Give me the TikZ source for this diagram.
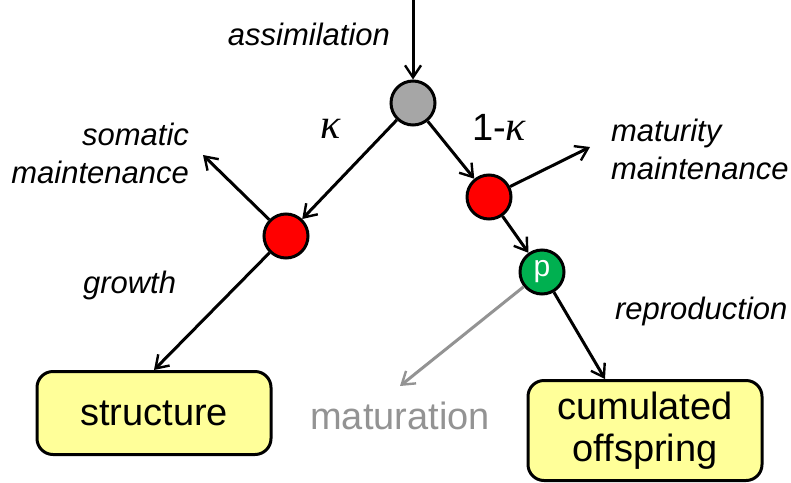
\documentclass[tikz,border=0pt]{standalone}
\usepackage{fontspec}
\setmainfont{Liberation Sans}
\newfontfamily\grkfont{Liberation Serif}
\usetikzlibrary{arrows.meta, positioning}

\definecolor{boxyellow}{RGB}{255,255,153}
\definecolor{poolgreen}{RGB}{0,176,80}

\tikzset{
    flow/.style={line width=1.5pt, -{Straight Barb[length=6pt, width=8pt, line width=1.2pt]}},
    pool/.style={circle, draw, line width=1.5pt, minimum size=22pt, inner sep=0pt},
    statebox/.style={draw, line width=1.5pt, rounded corners=8pt, fill=boxyellow,
        minimum width=117pt, align=center, font=\fontsize{19}{21}\selectfont},
    lbl/.style={font=\fontsize{15.5}{19}\selectfont\itshape, align=left}
}

\begin{document}
\begin{tikzpicture}[x=0.5pt, y=-0.5pt]
    \useasboundingbox (0,0) rectangle (791,482);
    % 1. Knoten
    \node[pool, fill=gray!70]   (mix)  at (413,103) {};
    \node[pool, fill=red]       (soma) at (286,236) {};
    \node[pool, fill=red]       (mat)  at (489,197) {};
    \node[pool, fill=poolgreen, text=white, font=\fontsize{15}{15}\selectfont] (p) at (542,272) {p};
    \node[statebox, minimum height=41.5pt] (struct) at (154,413) {structure};
    \node[statebox, minimum height=50pt, inner sep=0pt] (off) at (645,430.5)
        {cumulated\\offspring};

    % 2. Freie Enden
    \coordinate (top)    at (413,0);
    \coordinate (somend) at (203,155);
    \coordinate (matend) at (590,147);
    \coordinate (mtrend) at (400,386);

    % 3. Flüsse
    \draw[flow] (top) -- (mix);
    \draw[flow] (mix) -- (soma);
    \draw[flow] (mix) -- (mat);
    \draw[flow] (soma) -- (somend);
    \draw[flow] (soma) -- (struct.north);
    \draw[flow] (mat) -- (matend);
    \draw[flow] (mat) -- (p);
    \draw[flow, draw=gray!85] (p) -- (mtrend);
    \draw[flow] (p) -- (off.north -| 605,0);

    % 4. Beschriftungen
    \node[lbl, anchor=east] (lassim) at (397,34) {assimilation};
    \node[font=\fontsize{21}{21}\selectfont\grkfont\itshape] (lk) at (331,129) {κ};
    \node[font=\fontsize{19}{19}\selectfont] (lk1) at (499,127) {1-{\grkfont\itshape\fontsize{21}{21}\selectfont κ}};
    \node[lbl, anchor=east, align=right] (lsom) at (196,153) {somatic\\maintenance};
    \node[lbl, anchor=west] (lmat) at (604,149) {maturity\\maintenance};
    \node[lbl, anchor=west] (lgrow) at (76,285) {growth};
    \node[lbl, anchor=west] (lrep) at (608,311) {reproduction};
    \node[text=gray!85, font=\fontsize{19}{19}\selectfont] (lmtr) at (400,416) {maturation};
\end{tikzpicture}
\end{document}
